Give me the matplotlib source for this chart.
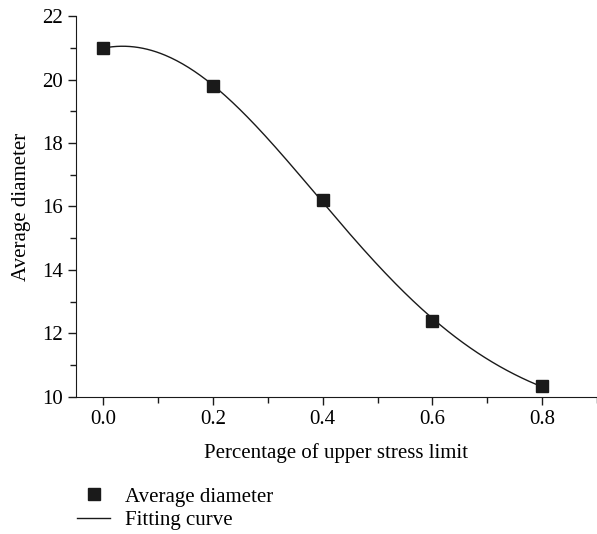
import numpy as np
from matplotlib import pyplot as plt
from matplotlib.ticker import MultipleLocator

plt.rcParams.update({'font.size': 15, 'font.family': 'Liberation Serif'})

stress_pct = [0.0, 0.2, 0.4, 0.6, 0.8]
avg_diameter = [21.0, 19.78, 16.2, 12.4, 10.35]


# Gauss fit of the measured points (grid search on xc/w, linear least squares for y0/A)
def gauss_fit(x, y):
    x, y = np.asarray(x), np.asarray(y)
    best = None
    for xc in np.linspace(-0.2, 0.2, 161):
        for w in np.linspace(0.1, 0.8, 281):
            g = np.exp(-(x - xc) ** 2 / (2 * w ** 2))
            A = np.column_stack([np.ones_like(g), g])
            sol, *_ = np.linalg.lstsq(A, y, rcond=None)
            err = np.sum((A @ sol - y) ** 2)
            if best is None or err < best[0]:
                best = (err, xc, w, sol)
    return best[1:]


xc, w, (y0, amp) = gauss_fit(stress_pct, avg_diameter)
x_fit = np.linspace(min(stress_pct), max(stress_pct), 300)
y_fit = y0 + amp * np.exp(-(x_fit - xc) ** 2 / (2 * w ** 2))

fig = plt.figure(figsize=(5.97, 5.34), dpi=100)
axis = fig.add_axes([0.1273, 0.2566, 0.8727, 0.7134])

axis.plot(x_fit, y_fit, color='#1a1a1a', linewidth=1.0, label='Fitting curve')
axis.plot(stress_pct, avg_diameter, linestyle='none', marker='s', markersize=8,
          color='#1a1a1a', label='Average diameter')

axis.set_xlim(-0.05, 0.9)
axis.set_ylim(10, 22)
axis.xaxis.set_major_locator(MultipleLocator(0.2))
axis.xaxis.set_minor_locator(MultipleLocator(0.1))
axis.yaxis.set_major_locator(MultipleLocator(2))
axis.yaxis.set_minor_locator(MultipleLocator(1))
axis.xaxis.set_major_formatter(plt.FormatStrFormatter('%.1f'))
axis.tick_params(which='major', direction='out', length=6, width=1, color='#1a1a1a')
axis.tick_params(which='minor', direction='out', length=4, width=1, color='#1a1a1a')
axis.spines['top'].set_visible(False)
axis.spines['right'].set_visible(False)
for s in ['left', 'bottom']:
    axis.spines[s].set_color('#1a1a1a')

axis.set_xlabel('Percentage of upper stress limit', labelpad=10)
axis.set_ylabel('Average diameter', labelpad=8)

handles, labels = axis.get_legend_handles_labels()
fig.legend([handles[1], handles[0]], [labels[1], labels[0]], loc='upper left',
           bbox_to_anchor=(77 / 597, 1 - 487 / 534), frameon=False,
           borderpad=0, borderaxespad=0, handlelength=1.6, handletextpad=0.7,
           labelspacing=0.2)

plt.savefig('out.png', dpi=100)
